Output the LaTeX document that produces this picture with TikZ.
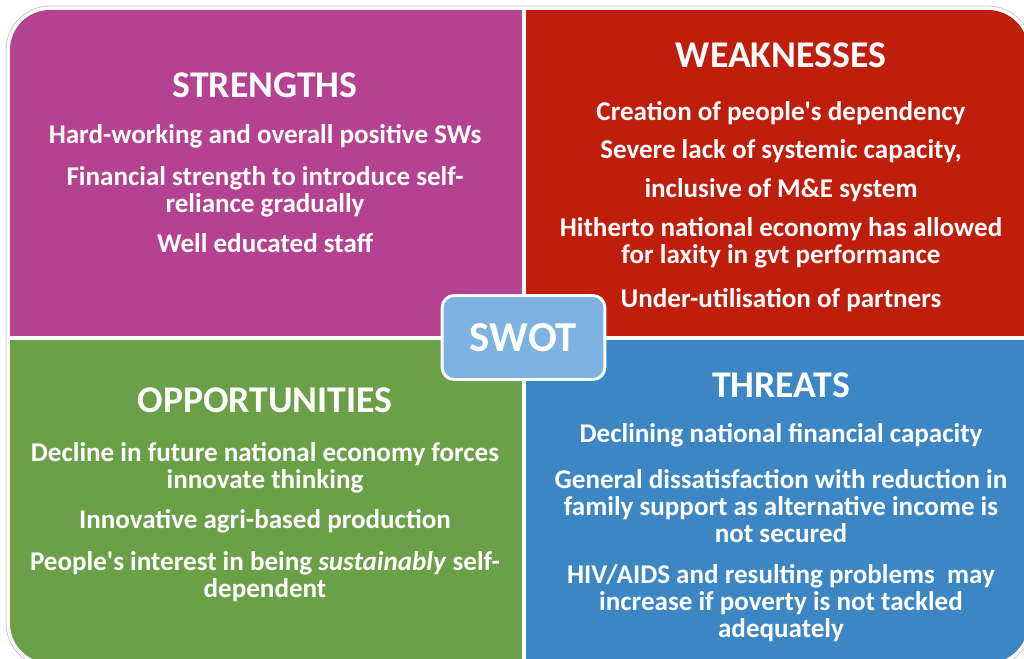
\documentclass[tikz,border=0pt]{standalone}
\usepackage{fontspec}
\setmainfont{Carlito}

\definecolor{swotmag}{RGB}{181,65,145}
\definecolor{swotred}{RGB}{191,30,12}
\definecolor{swotgreen}{RGB}{108,160,72}
\definecolor{swotblue}{RGB}{60,135,195}
\definecolor{swotsky}{RGB}{125,178,225}

% base anchor of a multi-line item sits on its last line
\tikzset{
  heading/.style={font=\fontsize{28.3}{32}\selectfont\bfseries, text=white, anchor=base, inner sep=0pt},
  item/.style={font=\fontsize{20.3}{19.9}\selectfont\bfseries, text=white, align=center, anchor=base, inner sep=0pt},
  swotbox/.style={draw=white, line width=2.2pt, fill=swotsky, rounded corners=9pt,
    minimum width=122pt, minimum height=63pt, text=white,
    font=\fontsize{32}{36}\selectfont\bfseries},
}

\begin{document}
\begin{tikzpicture}[x=0.75pt,y=-0.75pt]
  \useasboundingbox (0,0) rectangle (1024,658);
  \fill[white] (0,0) rectangle (1024,658);
  \draw[black!22, line width=0.6pt, rounded corners=33pt] (6,6) rectangle (1032,667);
  % the four quadrants, cut out of one rounded block
  \begin{scope}
    \clip[rounded corners=30pt] (10,10) rectangle (1028,663);
    \fill[swotmag] (10,10) rectangle (524,338);
    \fill[swotred] (524,10) rectangle (1028,338);
    \fill[swotgreen] (10,338) rectangle (524,663);
    \fill[swotblue] (524,338) rectangle (1028,663);
  \end{scope}
  \draw[white, line width=3pt] (524,8) -- (524,665);
  \draw[white, line width=3.4pt] (8,338) -- (1030,338);

  % strengths
  \node[heading] (s-head) at (265,97) {STRENGTHS};
  \node[item] (s-1) at (265,143) {Hard-working and overall positive SWs};
  \node[item] (s-2) at (265,212) {Financial strength to introduce self-\\reliance gradually};
  \node[item] (s-3) at (265,252) {Well educated staff};

  % weaknesses
  \node[heading] (w-head) at (781,67) {WEAKNESSES};
  \node[item] (w-1) at (781,120) {Creation of people\textquotesingle s dependency};
  \node[item] (w-2) at (781,158) {Severe lack of systemic capacity,};
  \node[item] (w-3) at (781,197) {inclusive of M\&E system};
  \node[item] (w-4) at (781,263) {Hitherto national economy has allowed\\for laxity in gvt performance};
  \node[item] (w-5) at (781,307) {Under-utilisation of partners};

  % opportunities
  \node[heading] (o-head) at (265,412) {OPPORTUNITIES};
  \node[item] (o-1) at (265,488) {Decline in future national economy forces\\innovate thinking};
  \node[item] (o-2) at (265,528) {Innovative agri-based production};
  \node[item] (o-3) at (265,597) {People\textquotesingle s interest in being \textit{sustainably} self-\\dependent};

  % threats
  \node[heading] (t-head) at (781,397) {THREATS};
  \node[item] (t-1) at (781,442) {Declining national financial capacity};
  \node[item] (t-2) at (781,542) {General dissatisfaction with reduction in\\family support as alternative income is\\not secured};
  \node[item] (t-3) at (781,637) {HIV/AIDS and resulting problems\ \ may\\increase if poverty is not tackled\\adequately};

  \node[swotbox] (swot) at (523.5,337.5) {SWOT};
\end{tikzpicture}
\end{document}
